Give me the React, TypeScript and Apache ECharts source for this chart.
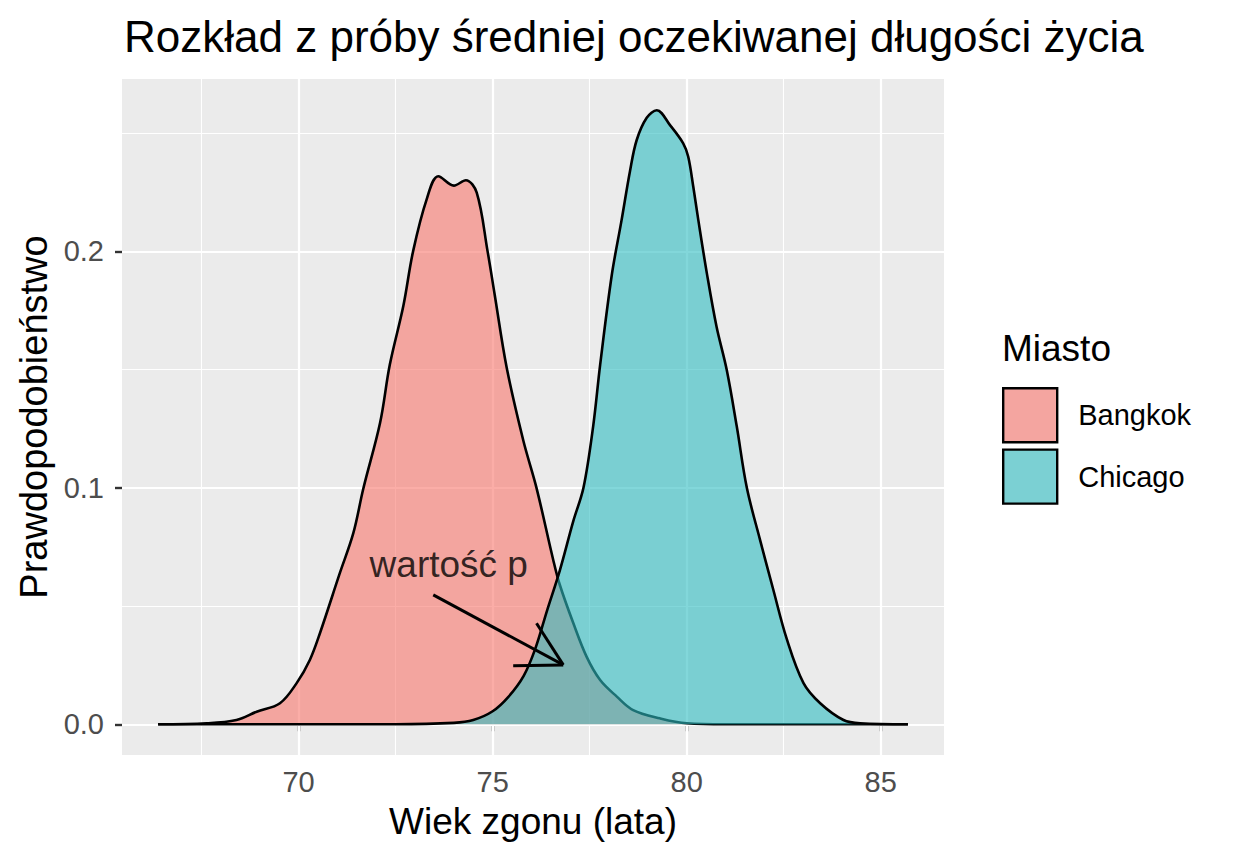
import React, { useEffect, useRef } from 'react';
import * as echarts from 'echarts';

// gęstości: [wiek, gęstość]
const bangkokDensity: [number, number][] = [
  [66.38, 0], [67.63, 0.0004], [68.4, 0.0018], [68.92, 0.0053], [69.52, 0.0089],
  [69.95, 0.0174], [70.29, 0.0272], [70.55, 0.0385], [71.06, 0.0638], [71.41, 0.0808],
  [71.67, 0.0998], [72.1, 0.1275], [72.35, 0.152], [72.7, 0.177], [72.95, 0.2],
  [73.3, 0.222], [73.6, 0.2318], [74.0, 0.2278], [74.31, 0.2301], [74.59, 0.2248],
  [74.87, 0.2], [75.05, 0.182], [75.36, 0.151], [75.79, 0.12], [76.13, 0.1],
  [76.56, 0.0696], [76.73, 0.059], [77.08, 0.0427], [77.42, 0.0286], [77.77, 0.0187],
  [78.2, 0.0117], [78.62, 0.006], [79.31, 0.0025], [80.0, 0.0004], [81.0, 0], [85.7, 0],
];

const chicagoDensity: [number, number][] = [
  [66.38, 0], [72.5, 0], [74.0, 0.0006], [74.5, 0.0018], [75.0, 0.0055],
  [75.4, 0.0115], [75.8, 0.0205], [76.1, 0.032], [76.4, 0.048], [76.73, 0.065],
  [77.08, 0.086], [77.34, 0.1], [77.59, 0.126], [77.77, 0.152], [78.07, 0.19],
  [78.32, 0.213], [78.54, 0.234], [78.71, 0.247], [78.97, 0.2565], [79.23, 0.2597],
  [79.57, 0.2534], [79.91, 0.2457], [80.04, 0.24], [80.17, 0.2273], [80.3, 0.2132],
  [80.52, 0.1907], [80.77, 0.1681], [81.03, 0.15], [81.29, 0.126], [81.55, 0.1],
  [81.89, 0.078], [82.23, 0.057], [82.58, 0.036], [83.01, 0.0174], [83.44, 0.0089],
  [84.04, 0.0018], [84.47, 0.0004], [85.7, 0],
];

const cities = ['Bangkok', 'Chicago'];
const xTicks = [70, 75, 80, 85];
const xMinor = [67.5, 72.5, 77.5, 82.5];
const yTicks = [0, 0.1, 0.2];
const yMinor = [0.05, 0.15, 0.25];

// adnotacja "wartość p" ze strzałką
const annotationLabel = 'wartość p';
const annotationPos: [number, number] = [73.87, 0.0674];
const arrowStart: [number, number] = [73.47, 0.0547];
const arrowTip: [number, number] = [76.82, 0.0251];
const arrowWingA: [number, number] = [76.13, 0.0427];
const arrowWingB: [number, number] = [75.53, 0.0247];

const font = '"Liberation Sans", Arial, Helvetica, sans-serif';

export default function App() {
  const chartRef = useRef<HTMLDivElement>(null);

  useEffect(() => {
    if (!chartRef.current) return;
    document.body.style.margin = '0';
    const chart = echarts.init(chartRef.current, null, { renderer: 'svg' });

    const gridLine = (key: 'xAxis' | 'yAxis', v: number, width: number) => ({
      [key]: v,
      lineStyle: { color: '#ffffff', width, type: 'solid', opacity: 1 },
    });

    const option: any = {
      animation: false,
      textStyle: { fontFamily: font },
      title: [
        {
          text: 'Rozkład z próby średniej oczekiwanej długości życia',
          left: 124,
          top: 14,
          padding: 0,
          textStyle: { fontSize: 44, fontWeight: 'normal', color: '#000', fontFamily: font },
        },
        {
          text: 'Miasto',
          left: 1002,
          top: 330,
          padding: 0,
          textStyle: { fontSize: 37, fontWeight: 'normal', color: '#000', fontFamily: font },
        },
      ],
      legend: {
        orient: 'vertical',
        left: 1002,
        top: 387,
        padding: 0,
        itemWidth: 54,
        itemHeight: 54,
        itemGap: 5,
        icon: 'rect',
        selectedMode: false,
        textStyle: { fontSize: 29, color: '#000', fontFamily: font, padding: [0, 0, 0, 16] },
        data: [
          { name: cities[0], itemStyle: { color: '#F4A5A0', borderColor: '#000', borderWidth: 2.4 } },
          { name: cities[1], itemStyle: { color: '#7BD0D3', borderColor: '#000', borderWidth: 2.4 } },
        ],
      },
      grid: {
        left: 122,
        top: 79,
        width: 822,
        height: 676,
        show: true,
        backgroundColor: '#EBEBEB',
        borderWidth: 0,
        containLabel: false,
      },
      xAxis: {
        type: 'value',
        min: 65.45,
        max: 86.63,
        name: 'Wiek zgonu (lata)',
        nameLocation: 'middle',
        nameGap: 48,
        nameTextStyle: { fontSize: 37, color: '#000', fontFamily: font },
        axisLine: { show: false },
        splitLine: { show: false },
        axisTick: {
          show: true,
          customValues: xTicks,
          length: 7,
          lineStyle: { color: '#333333', width: 2.4 },
        },
        axisLabel: {
          customValues: xTicks,
          margin: 12,
          fontSize: 29,
          color: '#4D4D4D',
          fontFamily: font,
        },
      },
      yAxis: {
        type: 'value',
        min: -0.013,
        max: 0.2729,
        name: 'Prawdopodobieństwo',
        nameLocation: 'middle',
        nameGap: 66,
        nameRotate: 90,
        nameTextStyle: { fontSize: 38, color: '#000', fontFamily: font },
        axisLine: { show: false },
        splitLine: { show: false },
        axisTick: {
          show: true,
          customValues: yTicks,
          length: 7,
          lineStyle: { color: '#333333', width: 2.4 },
        },
        axisLabel: {
          customValues: yTicks,
          margin: 18,
          fontSize: 29,
          color: '#4D4D4D',
          fontFamily: font,
          formatter: (v: number) => v.toFixed(1),
        },
      },
      series: [
        {
          name: 'grid',
          type: 'line',
          data: [],
          silent: true,
          showSymbol: false,
          z: 1,
          markLine: {
            z: 1,
            silent: true,
            symbol: ['none', 'none'],
            label: { show: false },
            emphasis: { disabled: true },
            data: [
              ...xMinor.map(v => gridLine('xAxis', v, 1.1)),
              ...yMinor.map(v => gridLine('yAxis', v, 1.1)),
              ...xTicks.map(v => gridLine('xAxis', v, 2.2)),
              ...yTicks.map(v => gridLine('yAxis', v, 2.2)),
            ],
          },
        },
        {
          name: cities[0],
          type: 'line',
          data: bangkokDensity,
          smooth: 0.35,
          showSymbol: false,
          silent: true,
          z: 3,
          itemStyle: { color: '#F4A5A0' },
          lineStyle: { color: '#000', width: 2.6 },
          areaStyle: { color: '#F8766D', opacity: 0.6 },
        },
        {
          name: cities[1],
          type: 'line',
          data: chicagoDensity,
          smooth: 0.35,
          showSymbol: false,
          silent: true,
          z: 4,
          itemStyle: { color: '#7BD0D3' },
          lineStyle: { color: '#000', width: 2.6 },
          areaStyle: { color: '#2FBCC1', opacity: 0.6 },
        },
        {
          name: 'arrow',
          type: 'lines',
          coordinateSystem: 'cartesian2d',
          silent: true,
          z: 10,
          lineStyle: { color: '#000', width: 3, opacity: 1 },
          data: [
            { coords: [arrowStart, arrowTip] },
            { coords: [arrowWingA, arrowTip] },
            { coords: [arrowWingB, arrowTip] },
          ],
        },
        {
          name: 'annotation',
          type: 'scatter',
          silent: true,
          z: 10,
          symbolSize: 0,
          data: [annotationPos],
          label: {
            show: true,
            position: 'inside',
            formatter: annotationLabel,
            fontSize: 37,
            color: '#000',
            fontFamily: font,
          },
        },
      ],
    };

    chart.setOption(option);
    return () => chart.dispose();
  }, []);

  return <div ref={chartRef} style={{ width: 1234, height: 864 }} />;
}
